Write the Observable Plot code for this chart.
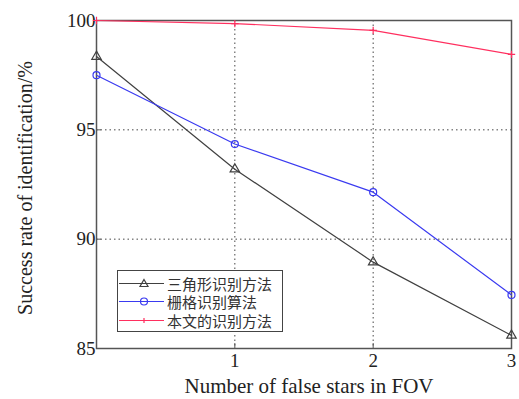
<!DOCTYPE html>
<html><head><meta charset="utf-8">
<script src="https://cdn.jsdelivr.net/npm/d3@7"></script>
<script src="https://cdn.jsdelivr.net/npm/@observablehq/plot@0.6"></script>
<style>
body{margin:0;background:#fff;}
#wrap{position:relative;width:519px;height:399px;}
#legend{position:absolute;left:117px;top:270px;width:166px;height:62px;border:1.5px solid #444;background:#fff;box-sizing:border-box;font-family:"Noto Sans CJK SC";font-size:15px;line-height:17px;padding-top:3px;}
#legend div{display:flex;align-items:center;height:18.5px;}
#legend span{line-height:17px;}
#legend svg{margin-left:1px;margin-right:3px;}
</style></head>
<body><div id="wrap"><div id="legend"></div></div>
<script>
const falseStars = [0, 1, 2, 3];
const seriesNames = ["三角形识别方法", "栅格识别算法", "本文的识别方法"];
const triangleRate = [98.35, 93.2, 88.95, 85.6];
const gridRate = [97.5, 94.35, 92.15, 87.45];
const oursRate = [100, 99.86, 99.55, 98.45];
const xTicks = [1, 2, 3];
const yTicks = [85, 90, 95, 100];
const xLabel = "Number of false stars in FOV";
const yLabel = "Success rate of identification/%";

const colors = ["#404040", "#3a3af0", "#ff2f5f"];
const symbols = ["triangle", "circle", "plus"];
const allRates = [triangleRate, gridRate, oursRate];
const data = [];
allRates.forEach((arr, s) => arr.forEach((v, i) => data.push({x: falseStars[i], y: v, s})));

const font = "'Liberation Serif', 'Times New Roman', serif";
const chart = Plot.plot({
  width: 519, height: 399,
  marginLeft: 96, marginRight: 8, marginTop: 20, marginBottom: 51,
  style: {fontFamily: font, fontSize: "19px", background: "#fff", color: "#222"},
  x: {domain: [0, 3]},
  y: {domain: [85, 100]},
  marks: [
    Plot.gridX(xTicks.slice(0, 2), {stroke: "#333", strokeOpacity: 0.9, strokeDasharray: "1.5,3"}),
    Plot.gridY([90, 95], {stroke: "#333", strokeOpacity: 0.9, strokeDasharray: "1.5,3"}),
    Plot.frame({stroke: "#555", strokeWidth: 1.5}),
    Plot.axisX(xTicks, {tickSize: -5, tickPadding: 10, tickFormat: "d", stroke: "#555", fontSize: 19, label: null}),
    Plot.axisY(yTicks, {tickSize: -5, tickPadding: 6, tickFormat: "d", stroke: "#555", fontSize: 19, label: null}),
    ...allRates.map((arr, s) => Plot.line(data.filter(d => d.s === s), {x: "x", y: "y", stroke: colors[s], strokeWidth: 1.2})),
    ...allRates.map((arr, s) => Plot.dot(data.filter(d => d.s === s), {x: "x", y: "y", stroke: colors[s], symbol: symbols[s], r: s === 2 ? 2.5 : 3.5, strokeWidth: 1.2}))
  ]
});
document.getElementById("wrap").prepend(chart);
const svg = d3.select(chart);
svg.append("text").attr("x", 309).attr("y", 386).attr("dy", "0.35em").attr("text-anchor", "middle")
  .attr("font-size", 21).attr("font-family", font).attr("fill", "#222").text(xLabel);
svg.append("text").attr("transform", "translate(25,188) rotate(-90)").attr("dy", "0.35em").attr("text-anchor", "middle")
  .attr("font-size", 20).attr("font-family", font).attr("fill", "#222").text(yLabel);

const leg = document.getElementById("legend");
seriesNames.forEach((name, s) => {
  const row = document.createElement("div");
  const sym = s === 0 ? '<path d="M25,5.5 L29,12.5 L21,12.5 Z" fill="none" stroke="'+colors[s]+'" stroke-width="1.2"/>'
    : s === 1 ? '<circle cx="25" cy="9.5" r="3.5" fill="none" stroke="'+colors[s]+'" stroke-width="1.2"/>'
    : '<path d="M25,7 V12 M22.5,9.5 H27.5" stroke="'+colors[s]+'" stroke-width="1.2"/>';
  row.innerHTML = '<svg width="45" height="19"><line x1="0" x2="45" y1="9.5" y2="9.5" stroke="'+colors[s]+'" stroke-width="1.2"/>'+sym+'</svg><span style="color:#333">'+name+'</span>';
  leg.appendChild(row);
});
</script></body></html>
